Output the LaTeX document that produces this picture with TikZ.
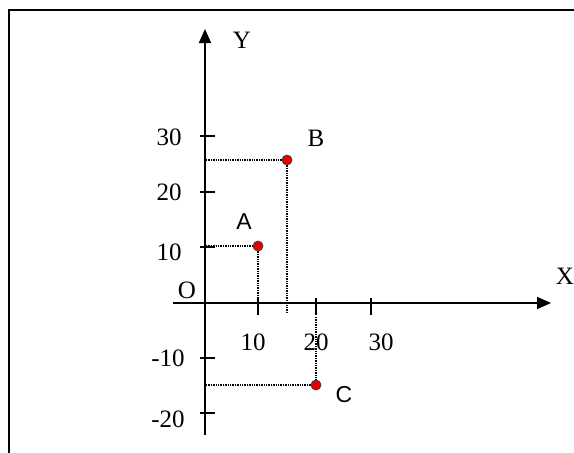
\documentclass[tikz,border=0pt]{standalone}
\usepackage{fontspec}
\setmainfont{Liberation Serif}
\newfontfamily\sansf{Liberation Sans}
\usetikzlibrary{arrows.meta}
\begin{document}
\begin{tikzpicture}[x=1pt,y=-1pt,
  frame/.style={line width=2pt},
  axis/.style={line width=1.7pt},
  tickmark/.style={line width=1.7pt},
  guide/.style={line width=1.5pt, dash pattern=on 1.3pt off 1.1pt},
  pt/.style={circle, fill=red!90!black, draw=black!75, line width=0.8pt, inner sep=0pt, minimum size=10pt},
  lbl/.style={font=\fontsize{25}{28}\selectfont, inner sep=0pt},
  slbl/.style={font=\sansf\fontsize{23}{26}\selectfont, inner sep=0pt}]
\useasboundingbox (0,0) rectangle (574,453);
% frame
\coordinate (f1) at (9,453);
\coordinate (f2) at (9,10);
\coordinate (f3) at (574,10);
\draw[frame] (f1) -- (f2) -- (f3);
% axes
\coordinate (xs) at (173,303);
\coordinate (xe) at (551,303);
\coordinate (ys) at (205,435);
\coordinate (ye) at (205,29);
\draw[axis,-{Triangle[length=14pt,width=12pt]}] (xs) -- (xe);
\draw[axis,-{Triangle[length=14pt,width=12pt]}] (ys) -- (ye);
% y ticks
\foreach \n/\y in {p30/136,p20/192,p10/247,z/303,m10/358,m20/413}{
  \coordinate (yt\n a) at (200,\y);
  \coordinate (yt\n b) at (215,\y);
  \draw[tickmark] (yt\n a) -- (yt\n b);
}
% x ticks
\foreach \n/\x in {10/258,20/316,30/371}{
  \coordinate (xt\n a) at (\x,298);
  \coordinate (xt\n b) at (\x,315);
  \draw[tickmark] (xt\n a) -- (xt\n b);
}
% tick labels
\node[lbl] (l30) at (169,137) {30};
\node[lbl] (l20) at (169,192) {20};
\node[lbl] (l10) at (169,252) {10};
\node[lbl] (lm10) at (168,358) {-10};
\node[lbl] (lm20) at (168,419) {-20};
\node[lbl] (lx10) at (253,342) {10};
\node[lbl] (lx20) at (316,342) {20};
\node[lbl] (lx30) at (381,342) {30};
\node[lbl] (lO) at (187,290) {O};
\node[lbl] (lY) at (242,40) {Y};
\node[lbl] (lX) at (565,276) {X};
% points
\node[pt] (B) at (287,160) {};
\node[pt] (A) at (258,246) {};
\node[pt] (C) at (316,385) {};
\node[lbl] (lB) at (316,138) {B};
\node[slbl] (lA) at (244,222) {A};
\node[slbl] (lC) at (344,395) {C};
% guides
\coordinate (By) at (206,160);
\coordinate (Bx) at (287,313);
\coordinate (Ay) at (206,246);
\coordinate (Ax) at (258,303);
\coordinate (Cy) at (206,385);
\coordinate (Cx) at (316,317);
\draw[guide] (By) -- (B.west);
\draw[guide] (B.south) -- (Bx);
\draw[guide] (Ay) -- (A.west);
\draw[guide] (A.south) -- (Ax);
\draw[guide] (Cy) -- (C.west);
\draw[guide] (Cx) -- (C.north);
\end{tikzpicture}
\end{document}
